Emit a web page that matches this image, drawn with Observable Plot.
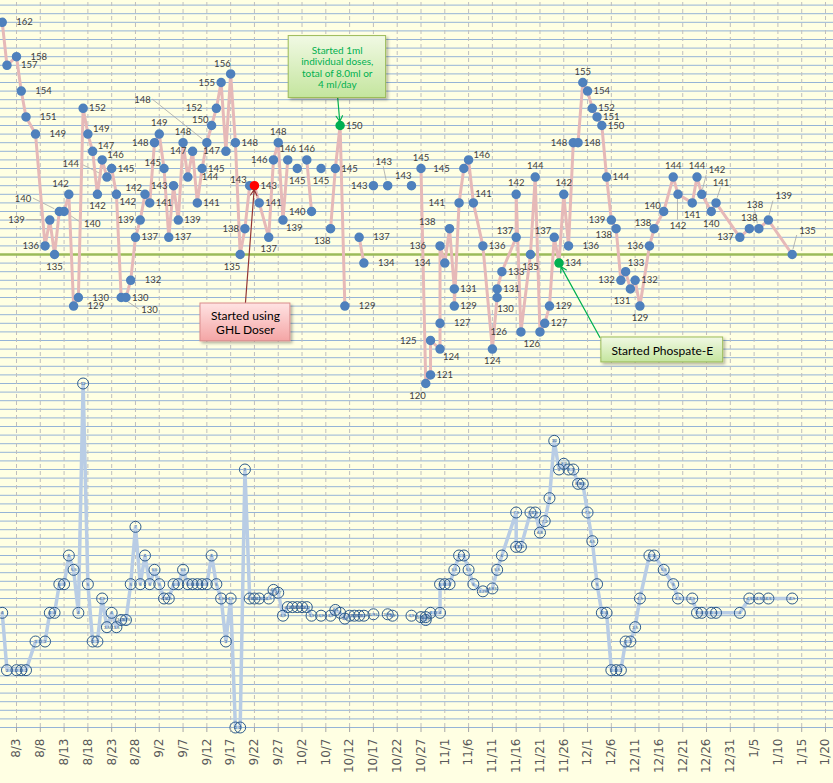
<!DOCTYPE html>
<html><head><meta charset="utf-8">
<script src="https://cdn.jsdelivr.net/npm/d3@7"></script>
<script src="https://cdn.jsdelivr.net/npm/@observablehq/plot@0.6"></script>
<style>
html,body{margin:0;padding:0;background:#FFFFE3;overflow:hidden;}
#chart svg{display:block;}
</style></head><body><div id="chart"></div>
<script>
// ---------- data (top series: primary axis) ----------
const topDates = ["7/31","8/1","8/3","8/4","8/5","8/7","8/9","8/10","8/11","8/12","8/13","8/14","8/15","8/16","8/17","8/18","8/19","8/20","8/21","8/22","8/23","8/24","8/25","8/26","8/27","8/28","8/29","8/30","8/31","9/1","9/2","9/3","9/4","9/5","9/6","9/7","9/8","9/9","9/10","9/11","9/12","9/13","9/14","9/15","9/16","9/17","9/18","9/19","9/20","9/21","9/22","9/23","9/25","9/26","9/27","9/28","9/29","9/30","10/1","10/2","10/3","10/4","10/5","10/6","10/7","10/8","10/9","10/10","10/11","10/12","10/14","10/15","10/16","10/17","10/18","10/20","10/21","10/25","10/26","10/27","10/28","10/29","10/29","10/31","10/31","10/31","11/1","11/2","11/3","11/3","11/4","11/5","11/6","11/7","11/9","11/11","11/12","11/12","11/13","11/16","11/16","11/17","11/19","11/20","11/21","11/22","11/23","11/24","11/25","11/26","11/27","11/28","11/29","11/30","12/1","12/2","12/3","12/4","12/5","12/6","12/7","12/8","12/9","12/10","12/11","12/12","12/14","12/15","12/17","12/19","12/20","12/23","12/24","12/25","12/27","12/28","1/2","1/4","1/6","1/8","1/13"];
const topValues = [162,157,158,154,151,149,136,139,135,140,140,142,129,130,152,149,147,142,146,144,145,142,130,130,132,137,139,142,141,148,149,145,137,143,139,148,144,147,141,145,148,150,152,155,147,156,148,135,138,143,143,141,137,146,148,139,146,null,145,null,146,140,null,145,null,138,145,150,129,null,137,134,null,143,null,143,null,143,null,145,120,121,125,124,127,136,134,138,131,129,141,145,146,141,136,124,130,131,133,137,142,126,135,144,126,127,129,137,134,142,136,148,148,155,154,152,151,150,144,139,138,132,133,131,132,129,136,138,140,144,142,141,144,142,140,141,137,138,138,139,135];
// label placement codes for the top series (same order as values)
const topLabelPos = ["R","R","R","R","R","R","l","LL","b","LLt","RRb","tl","R","R","r","ru","ru","b","ru","LLt","r","rb","RRb","r","R","r","l","lu","r","l","t","lu","r","l","r","t","R","l","r","r","far","lu","L","l","l","tl","r","bl","l","lu","r","r","b","l","t","rb","t","-","b","-","t","l","-","b","-","bl","r","r","R","-","R","R","-","l","-","T","-","tl","-","t","bl","r","L","rb","R","L","L","Lu","r","r","L","L","ru","tr","r","b","br","r","r","lu","t","L","b","t","bl","r","r","lu","r","t","R","l","r","t","r","r","r","r","r","l","lb","l","tr","bl","r","b","l","lu","lu","t","B","b","t","TR","b","Tr","l","t","T","TR","TR"];
const redDates = ["9/22"];
const greenDates = ["10/10","11/25"];

// ---------- data (bottom series: secondary axis) ----------
const bottomDates = ["7/31","8/1","8/3","8/4","8/5","8/7","8/9","8/10","8/11","8/12","8/13","8/14","8/15","8/16","8/17","8/18","8/19","8/20","8/21","8/22","8/23","8/24","8/25","8/26","8/27","8/28","8/29","8/30","8/31","9/1","9/2","9/3","9/4","9/5","9/6","9/7","9/8","9/9","9/10","9/11","9/12","9/13","9/14","9/15","9/16","9/17","9/18","9/19","9/20","9/21","9/22","9/23","9/25","9/26","9/27","9/28","9/29","9/30","10/1","10/2","10/3","10/4","10/5","10/6","10/7","10/8","10/9","10/10","10/11","10/12","10/13","10/14","10/15","10/16","10/17","10/18","10/20","10/21","10/22","10/25","10/26","10/27","10/28","10/28","10/29","10/31","10/31","11/1","11/2","11/3","11/4","11/5","11/6","11/7","11/9","11/11","11/12","11/13","11/16","11/16","11/17","11/19","11/20","11/21","11/22","11/23","11/24","11/25","11/26","11/27","11/28","11/29","11/30","12/1","12/2","12/3","12/4","12/5","12/6","12/7","12/8","12/9","12/10","12/11","12/12","12/14","12/15","12/17","12/19","12/20","12/23","12/24","12/25","12/27","12/28","1/2","1/4","1/6","1/8","1/13"];
const bottomValues = [4,2,2,2,2,3,3,4,4,5,5,6,5.5,4,12,5,3,3,4.5,3.5,4,3.5,3.75,3.75,5,7,5,6,5,5.5,5,4.5,4.5,5,5,5.5,5,5,5,5,5,6,5,4.5,3,4.5,0,0,9,4.5,4.5,4.5,4.5,4.8,4.7,3.9,4.2,4.2,4.2,4.2,4.2,3.9,null,3.9,null,3.9,4.1,4,3.8,3.9,3.9,3.9,3.9,null,3.95,null,3.95,3.9,null,3.9,null,3.85,3.75,3.85,4,4,5,5,5,5.5,6,6,5.5,5,4.75,4.85,5.5,6,7.5,6.3,6.3,7.5,7.5,6.8,7.2,8,10,9,9.2,9,9,8.5,8.5,7.5,6.5,5,4,4,2,2,2,3,3,3.5,4.5,6,6,5.5,5,4.5,4.5,4,4,4,4,4,4.5,4.5,4.5,4.5];

// ---------- axis ----------
const tickLabels = ["8/3","8/8","8/13","8/18","8/23","8/28","9/2","9/7","9/12","9/17","9/22","9/27","10/2","10/7","10/12","10/17","10/22","10/27","11/1","11/6","11/11","11/16","11/21","11/26","12/1","12/6","12/11","12/16","12/21","12/26","12/31","1/5","1/10","1/15","1/20"];
const primaryDomain = [80, 165];
const secondaryDomain = [0, 25.5];
const referenceLevel = [135];

// ---------- annotations ----------
const notes = [
  {lines:["Started using","GHL Doser"], box:["9/10.66","9/29.56",129.3,124.9], text:["9/20.1",127.1], size:12, color:"#000000",
   grad:"gPink", border:"#D98C8C", arrow:["9/20.1",129.3,"9/22",143], arrowColor:"#943634"},
  {lines:["Started 1ml","individual doses,","total of 8.0ml or","4 ml/day"], box:["9/29.2","10/19.67",160.4,153.2], text:["10/9.4",156.75], size:10, color:"#00B050",
   grad:"gGreen", border:"#9BBB59", arrow:["10/9.5",153.2,"10/10",150], arrowColor:"#00B050"},
  {lines:["Started Phospate-E"], box:["12/3.9","12/29.5",125.35,122.45], text:["12/16.7",123.85], size:12, color:"#000000",
   grad:"gGreen", border:"#9BBB59", arrow:["12/3.6",125.35,"11/25",134], arrowColor:"#00B050"}
];

// ---------- helpers ----------
const parse = s => { const [m, d] = s.split("/").map(Number); return new Date(Date.UTC(m >= 7 ? 2019 : 2020, m - 1, 1) + (d - 1) * 864e5); };
const toPrimary = d3.scaleLinear().domain(secondaryDomain).range(primaryDomain);
const topAll = topDates.map((d, i) => ({date: parse(d), key: d, value: topValues[i], pos: topLabelPos[i]}));
const topPts = topAll.filter(d => d.value != null).map(d => ({...d,
  color: redDates.includes(d.key) ? "#FF0000" : greenDates.includes(d.key) ? "#00B050" : "#4F81BD"}));
const bottomAll = bottomDates.map((d, i) => ({date: parse(d), s: bottomValues[i], y: bottomValues[i] == null ? null : toPrimary(bottomValues[i])}));
const bottomPts = bottomAll.filter(d => d.s != null);
const tickDates = tickLabels.map(parse);
const gridValues = d3.range(primaryDomain[0], primaryDomain[1]);
const noteRows = notes.map(n => ({...n,
  bx1: parse(n.box[0]), bx2: parse(n.box[1]), by1: n.box[2], by2: n.box[3],
  tx: parse(n.text[0]), ty: n.text[1], label: n.lines.join("\n"),
  ax1: parse(n.arrow[0]), ay1: n.arrow[1], ax2: parse(n.arrow[2]), ay2: n.arrow[3]}));

// label placement styles: [anchor, dx, dy, leader?]
const codeStyle = {
  r:["start",6,0], R:["start",14,0], ru:["start",5,-5], rb:["start",3,8], br:["start",0,11], RRb:["start",20,12,1],
  tr:["start",2,-9], TR:["start",7,-24,1],
  l:["end",-6,0], L:["end",-14,0], Lu:["end",-14,-7], LL:["end",-25,0,1], LLt:["end",-28,-13,1], lu:["end",-3,-6],
  lb:["end",-4,6], tl:["end",0,-10], bl:["end",0,12], far:["end",-56,-43,1],
  t:["middle",0,-11], T:["middle",-4,-24,1], Tr:["middle",5,-20,1], b:["middle",0,12], B:["middle",0,32,1]
};
const labelMarks = Object.entries(codeStyle).map(([code, [anchor, dx, dy]]) =>
  Plot.text(topPts.filter(d => d.pos === code), {x: "date", y: "value", text: d => String(d.value),
    textAnchor: anchor, dx, dy, fontSize: 9.5, fontFamily: "Lato", fill: "#404040"}));

const fmtS = d3.format("~g");

const chart = Plot.plot({
  width: 833, height: 783,
  marginTop: 0, marginLeft: 0, marginRight: 0, marginBottom: 56,
  style: {background: "#FFFFE3", fontFamily: "Lato"},
  x: {type: "utc", domain: [parse("8/3"), parse("1/20")], range: [16, 825], axis: null},
  y: {domain: primaryDomain, range: [727, -4], axis: null},
  color: {type: "identity"},
  marks: [
    Plot.ruleY(gridValues, {stroke: "#95B3D7", strokeWidth: 1}),
    Plot.ruleX(tickDates, {y1: primaryDomain[0], y2: primaryDomain[1], stroke: "#BFBFBF", strokeDasharray: "4,3"}),
    Plot.ruleY(referenceLevel, {stroke: "#9BBB59", strokeWidth: 2.5}),
    // bottom series
    Plot.line(bottomAll, {x: "date", y: "y", stroke: "#B9CDE5", strokeWidth: 3.5}),
    Plot.dot(bottomPts, {x: "date", y: "y", r: 5.5, stroke: "#2C5A8C", strokeWidth: 1, fill: "none"}),
    Plot.text(bottomPts, {x: "date", y: "y", text: d => fmtS(d.s), fontSize: 4.5, fill: "#2C5A8C"}),
    // top series
    Plot.line(topAll, {x: "date", y: "value", stroke: "#E6B9B8", strokeWidth: 3}),
    Plot.dot(topPts, {x: "date", y: "value", r: 4, fill: "color", stroke: "color"}),
    ...labelMarks,
    // annotations
    Plot.arrow(noteRows, {x1: "ax1", y1: "ay1", x2: "ax2", y2: "ay2", stroke: "arrowColor", strokeWidth: 1.2, headLength: 8, insetEnd: 4}),
    Plot.rect(noteRows, {x1: "bx1", x2: "bx2", y1: "by1", y2: "by2", fill: d => `url(#${d.grad})`, stroke: "border", strokeWidth: 1}),
    Plot.text(noteRows, {x: "tx", y: "ty", text: "label", fill: "color", fontSize: "size", lineHeight: 1.15, fontFamily: "Lato"}),
    // x axis
    Plot.axisX(tickDates, {anchor: "bottom", tickRotate: -90, tickSize: 5, tickPadding: 6,
      tickFormat: d => `${d.getUTCMonth() + 1}/${d.getUTCDate()}`,
      fontSize: 12, fontFamily: "DejaVu Sans", fill: "#595959", stroke: "#A6A6A6"})
  ]
});

const svg = d3.select(chart);
// leader lines for labels placed away from their points (positions from the plot's own scales)
const sx = chart.scale("x"), sy = chart.scale("y");
const leaders = svg.insert("g", "g[aria-label='text']").attr("stroke", "#A6A6A6").attr("stroke-width", 0.8);
topPts.forEach(d => {
  const st = codeStyle[d.pos];
  if (!st || !st[3]) return;
  const [anchor, dx, dy] = st;
  const px = sx.apply(d.date), py = sy.apply(d.value);
  let lx = px + dx, ly = py + dy;
  if (anchor === "end") lx += 2;
  else if (anchor === "start") lx -= 2;
  if (anchor === "middle" || (anchor === "start" && dy < -15)) ly += dy < 0 ? 5 : -6;
  const ang = Math.atan2(ly - py, lx - px);
  const ex = px + Math.cos(ang) * 5, ey = py + Math.sin(ang) * 5;
  leaders.append("line").attr("x1", lx).attr("y1", ly).attr("x2", ex).attr("y2", ey);
});

// gradients and shadows for the annotation boxes
const defs = svg.insert("defs", ":first-child");
const addGrad = (id, c0, c1) => {
  const g = defs.append("linearGradient").attr("id", id).attr("x1", 0).attr("y1", 0).attr("x2", 0).attr("y2", 1);
  g.append("stop").attr("offset", "0%").attr("stop-color", c0);
  g.append("stop").attr("offset", "100%").attr("stop-color", c1);
};
addGrad("gPink", "#FFE3E3", "#F4A5A5");
addGrad("gGreen", "#F1F9E4", "#C4E59E");
const f = defs.append("filter").attr("id", "shadow").attr("x", "-20%").attr("y", "-20%").attr("width", "150%").attr("height", "160%");
f.append("feDropShadow").attr("dx", 2).attr("dy", 2).attr("stdDeviation", 1.5).attr("flood-color", "#000").attr("flood-opacity", 0.3);
svg.selectAll("rect").filter(function() { return (this.getAttribute("fill") || "").startsWith("url("); }).attr("filter", "url(#shadow)");

document.getElementById("chart").appendChild(chart);
</script>
</body></html>
